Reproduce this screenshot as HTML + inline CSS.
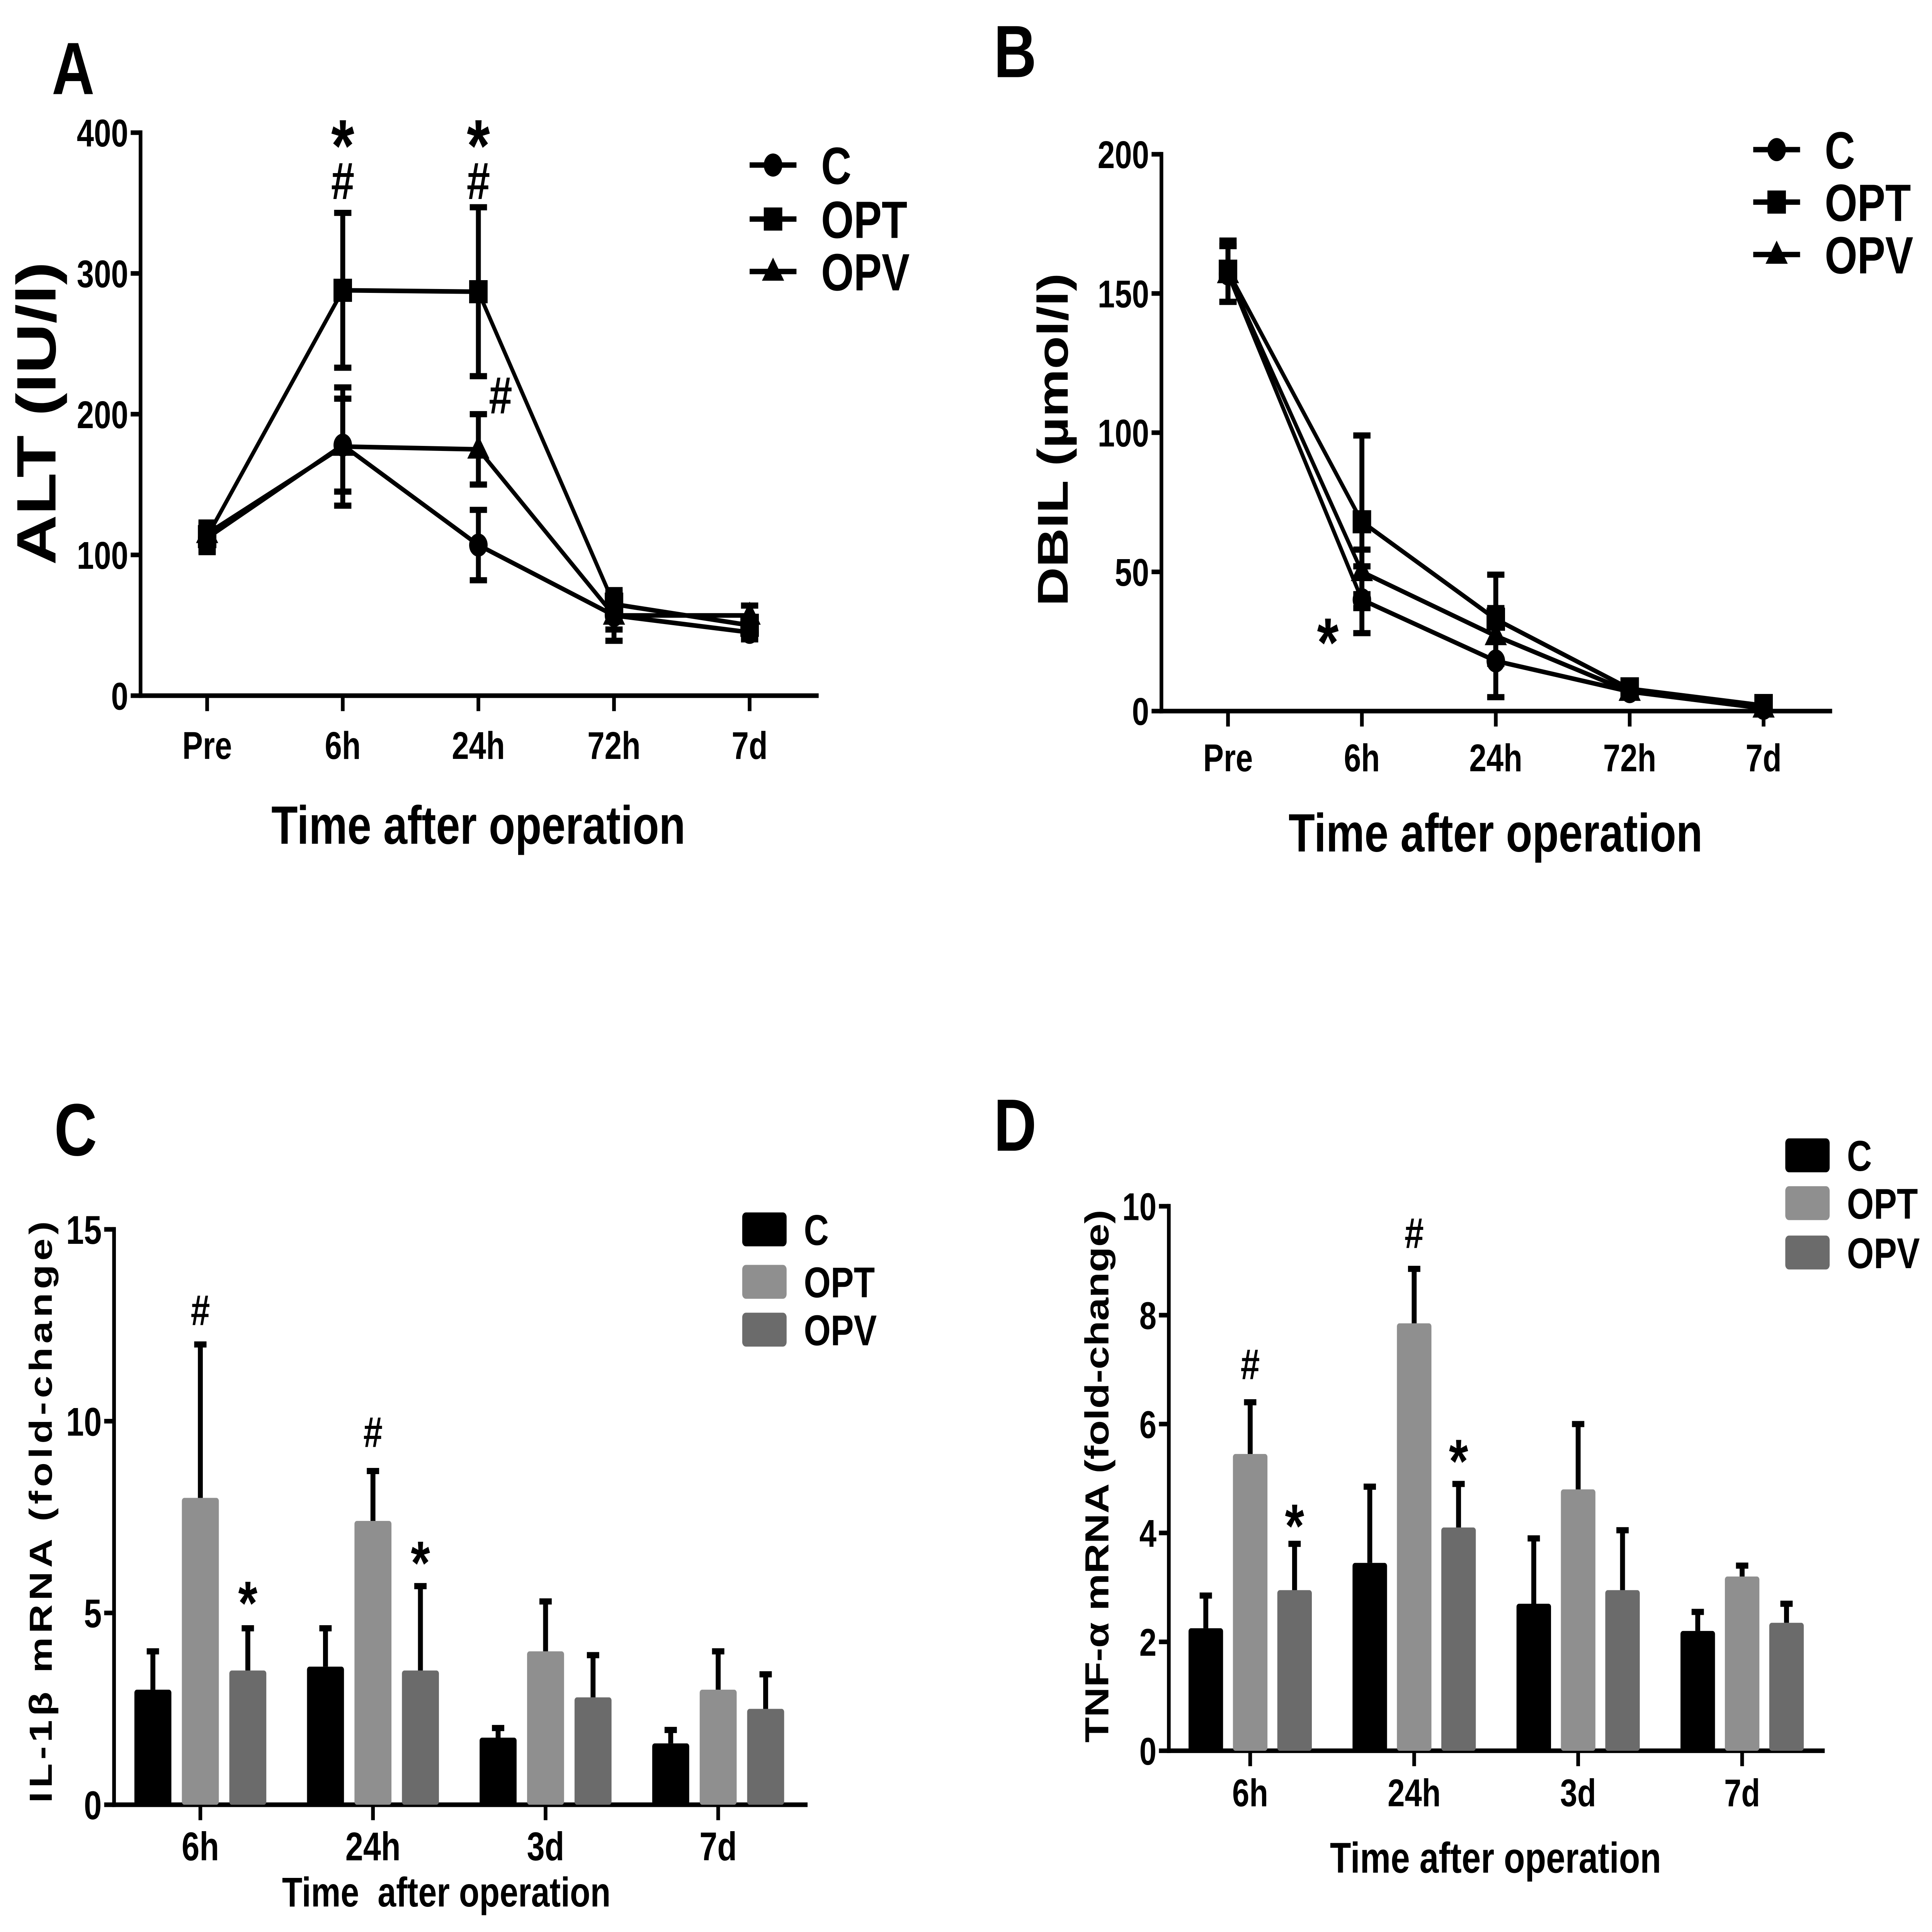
<!DOCTYPE html>
<html><head><meta charset="utf-8"><style>
html,body{margin:0;padding:0;background:#fff;width:100%;height:100%;overflow:hidden;}
svg{display:block;width:100vw;height:100vh;}
text{font-family:"Liberation Sans",Arial,sans-serif;font-weight:bold;fill:#000;}
</style></head><body>
<svg id="fig" viewBox="0 0 1567 1252.5" preserveAspectRatio="none" xmlns="http://www.w3.org/2000/svg">
<rect width="1567" height="1252.5" fill="#fff"/>
</svg>
<script>
// ---- Panel A data (ALT) ----
const aCats = ["Pre","6h","24h","72h","7d"];
const aC = [112,178,107,57,45];
const aCerr = [10,33,25,10,5];
const aOPT = [113,288,287,65,50];
const aOPTerr = [10,55,60,8,5];
const aOPV = [115,177,175,57,57];
const aOPVerr = [8,42,25,18,7];
const aTicks = [0,100,200,300,400];
// ---- Panel B data (DBIL) ----
const bCats = ["Pre","6h","24h","72h","7d"];
const bC = [157,40,18,7,1];
const bCerr = [10,12,13,1,1];
const bOPT = [158,68,33,8,2];
const bOPTerr = [11,31,16,1,1];
const bOPV = [157,50,27,7,1];
const bOPVerr = [10,8,10,1,1];
const bTicks = [0,50,100,150,200];
// ---- Panel C data (IL-1b) ----
const cCats = ["6h","24h","3d","7d"];
const cC = [3.0,3.6,1.75,1.6];
const cCerr = [1.0,1.0,0.25,0.35];
const cOPT = [8.0,7.4,4.0,3.0];
const cOPTerr = [4.0,1.3,1.3,1.0];
const cOPV = [3.5,3.5,2.8,2.5];
const cOPVerr = [1.1,2.2,1.1,0.9];
const cTicks = [0,5,10,15];
// ---- Panel D data (TNF-a) ----
const dCats = ["6h","24h","3d","7d"];
const dC = [2.25,3.45,2.7,2.2];
const dCerr = [0.6,1.4,1.2,0.35];
const dOPT = [5.45,7.85,4.8,3.2];
const dOPTerr = [0.95,1.0,1.2,0.2];
const dOPV = [2.95,4.1,2.95,2.35];
const dOPVerr = [0.85,0.8,1.1,0.35];
const dTicks = [0,2,4,6,8,10];

const NS="http://www.w3.org/2000/svg";
const svg=document.getElementById('fig');
function mk(tag,attrs,parent,txt){const e=document.createElementNS(NS,tag);for(const k in attrs)e.setAttribute(k,attrs[k]);if(txt!==undefined)e.textContent=txt;(parent||svg).appendChild(e);return e;}
function line(p,x1,y1,x2,y2,w){return mk('line',{x1,y1,x2,y2,stroke:'#000','stroke-width':w||3},p);}
function txt(p,x,y,s,size,anchor,extra){return mk('text',Object.assign({x,y,'font-size':size,'text-anchor':anchor||'middle'},extra||{}),p,s);}

function axes(g,x0,x1,y0,yTop,ticks,ymax,cats,xs,tickSize,labBase){
  const ys=v=>y0-(v/ymax)*(y0-yTop);
  const ax=mk('g',{},g);
  
  
  line(ax,x0,yTop-1.5,x0,y0+1.5,3);
  ticks.forEach(t=>{line(ax,x0-8,ys(t),x0,ys(t),3);const l=txt(ax,x0-10,ys(t)+tickSize*0.36,String(t),tickSize,'end');});
  const bx=mk('g',{},g);
  
  
  line(bx,x0-1.5,y0,x1,y0,3);
  cats.forEach((c,i)=>{line(bx,xs(i),y0,xs(i),y0+10,3);const l=txt(bx,xs(i),labBase,c,tickSize,'middle');});
  return ys;
}
function marker(g,type,x,y){
  if(type==='circle')return mk('circle',{cx:x,cy:y,r:7.5},g);
  if(type==='square')return mk('rect',{x:x-7.5,y:y-7.5,width:15,height:15},g);
  return mk('polygon',{points:`${x},${y-9} ${x+9},${y+6} ${x-9},${y+6}`},g);
}
function lineSeries(g,name,vals,errs,xs,ys,type){
  const s=mk('g',{},g);
  
  
  const pts=vals.map((v,i)=>xs(i)+','+ys(v)).join(' ');
  mk('polyline',{points:pts,fill:'none',stroke:'#000','stroke-width':3},s);
  vals.forEach((v,i)=>{
    const x=xs(i);
    line(s,x,ys(v-errs[i]),x,ys(v+errs[i]),4);
    line(s,x-7,ys(v+errs[i]),x+7,ys(v+errs[i]),4);
    line(s,x-7,ys(v-errs[i]),x+7,ys(v-errs[i]),4);
    const m=marker(s,type,x,ys(v));
    
    
  });
}
function barSeries(g,name,vals,errs,xs,ys,off,w,color){
  const s=mk('g',{},g);
  
  
  vals.forEach((v,i)=>{
    const cx=xs(i)+off;
    const r=mk('rect',{x:cx-w/2,y:ys(v),width:w,height:ys(0)-ys(v),fill:color,rx:2},s);
    
    
    line(s,cx,ys(v),cx,ys(v+errs[i]),4);
    line(s,cx-5,ys(v+errs[i]),cx+5,ys(v+errs[i]),4);
  });
}
function lineLegend(g,x,ysArr,size){
  const L=mk('g',{},g);
  
  
  [['C','circle'],['OPT','square'],['OPV','tri']].forEach((e,i)=>{
    const y=ysArr[i];
    const it=mk('g',{},L);
    
    
    line(it,x,y,x+38,y,3.5);marker(it,e[1],x+19,y);
    txt(it,x+58,y+size*0.36,e[0],size,'start');
  });
}
function barLegend(g,x,ysArr,size){
  const L=mk('g',{},g);
  
  
  [['C','#000'],['OPT','#8f8f8f'],['OPV','#6b6b6b']].forEach((e,i)=>{
    const y=ysArr[i];
    const it=mk('g',{},L);
    
    
    mk('rect',{x,y:y-11,width:36,height:22,fill:e[1],rx:3},it);
    txt(it,x+50,y+size*0.36,e[0],size,'start');
  });
}
function mark(g,x,y,s,size,font){
  const t=txt(g,x,y,s,size,'middle',{'font-weight':font||'normal'});
  
  
}
function panelLabel(g,x,y,s){const t=txt(g,x,y,s,48,'start');}

// ---- Panel A ----
{
const g=mk('g',{});
panelLabel(g,42,61,'A');
const xs=i=>168+i*110;
const ys=axes(g,114,664,451,86,aTicks,400,aCats,xs,25,492);
lineSeries(g,'c',aC,aCerr,xs,ys,'circle');
lineSeries(g,'opt',aOPT,aOPTerr,xs,ys,'square');
lineSeries(g,'opv',aOPV,aOPVerr,xs,ys,'tri');
lineLegend(g,608,[107,142,176],34);
mark(g,xs(1),111,'*',48,'bold');mark(g,xs(1),129,'#',34);
mark(g,xs(2),111,'*',48,'bold');mark(g,xs(2),129,'#',34);
mark(g,406,268,'#',34);
const yt=txt(g,0,0,'ALT (IU/l)',45,'middle',{transform:'translate(45,268) rotate(-90)'});
const xt=txt(g,388,547,'Time after operation',35,'middle');
}
// ---- Panel B ----
{
const g=mk('g',{});
panelLabel(g,806,50,'B');
const xs=i=>996+i*108.6;
const ys=axes(g,942,1486,461,100,bTicks,200,bCats,xs,25,500);
lineSeries(g,'c',bC,bCerr,xs,ys,'circle');
lineSeries(g,'opt',bOPT,bOPTerr,xs,ys,'square');
lineSeries(g,'opv',bOPV,bOPVerr,xs,ys,'tri');
lineLegend(g,1422,[97,131,165],34);
mark(g,1077,432,'*',45,'bold');
const yt=txt(g,0,0,'DBIL (µmol/l)',35,'middle',{transform:'translate(866,285) rotate(-90)'});
const xt=txt(g,1213,552,'Time after operation',35,'middle');
}
// ---- Panel C ----
{
const g=mk('g',{});
panelLabel(g,44,749,'C');
const xs=i=>162.5+i*140;
const ys=axes(g,92.5,655,1170,797,cTicks,15,cCats,xs,26,1206);
barSeries(g,'c',cC,cCerr,xs,ys,-38.5,30,'#000');
barSeries(g,'opt',cOPT,cOPTerr,xs,ys,0,30,'#8f8f8f');
barSeries(g,'opv',cOPV,cOPVerr,xs,ys,38.5,30,'#6b6b6b');
barLegend(g,602,[797,831,862],28);
mark(g,xs(0),859,'#',28);mark(g,xs(0)+38.5,1053,'*',40,'bold');
mark(g,xs(1),938,'#',28);mark(g,xs(1)+38.5,1027,'*',40,'bold');
const yt=txt(g,0,0,'IL-1β mRNA (fold-change)',26,'middle',{transform:'translate(42,979) rotate(-90)','letter-spacing':'2.5'});
const xt=txt(g,362,1236,'Time  after operation',27,'middle',{style:'white-space:pre'});
}
// ---- Panel D ----
{
const g=mk('g',{});
panelLabel(g,806,746,'D');
const xs=i=>1014+i*133;
const ys=axes(g,948,1480,1135,782,dTicks,10,dCats,xs,25,1171);
barSeries(g,'c',dC,dCerr,xs,ys,-36,28,'#000');
barSeries(g,'opt',dOPT,dOPTerr,xs,ys,0,28,'#8f8f8f');
barSeries(g,'opv',dOPV,dOPVerr,xs,ys,36,28,'#6b6b6b');
barLegend(g,1448,[749,780,812],28);
mark(g,xs(0),894,'#',28);mark(g,xs(0)+36,1003,'*',40,'bold');
mark(g,xs(1),809,'#',28);mark(g,xs(1)+36,961,'*',40,'bold');
const yt=txt(g,0,0,'TNF-α mRNA (fold-change)',27,'middle',{transform:'translate(899,957) rotate(-90)'});
const xt=txt(g,1213,1214,'Time after operation',28,'middle');
}
</script>
</body></html>
